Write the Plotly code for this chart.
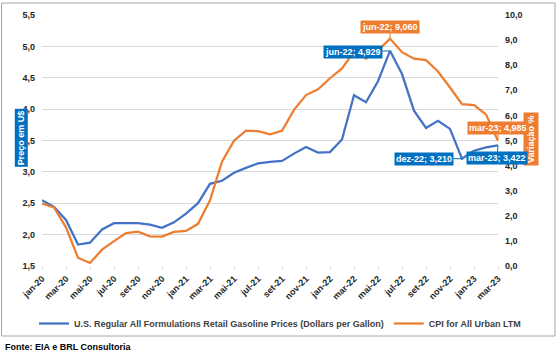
import plotly.graph_objects as go

months = ['jan-20','fev-20','mar-20','abr-20','mai-20','jun-20','jul-20','ago-20','set-20','out-20','nov-20','dez-20',
          'jan-21','fev-21','mar-21','abr-21','mai-21','jun-21','jul-21','ago-21','set-21','out-21','nov-21','dez-21',
          'jan-22','fev-22','mar-22','abr-22','mai-22','jun-22','jul-22','ago-22','set-22','out-22','nov-22','dez-22',
          'jan-23','fev-23','mar-23']
gasoline = [2.548,2.442,2.234,1.841,1.871,2.082,2.183,2.182,2.183,2.158,2.108,2.195,
            2.334,2.501,2.810,2.858,2.985,3.064,3.136,3.158,3.175,3.291,3.395,3.307,
            3.315,3.517,4.222,4.109,4.444,4.929,4.559,3.975,3.700,3.815,3.685,3.210,
            3.338,3.391,3.422]
cpi = [2.49,2.33,1.54,0.33,0.12,0.65,0.99,1.31,1.37,1.18,1.17,1.36,
       1.40,1.68,2.62,4.16,4.99,5.39,5.37,5.25,5.39,6.22,6.81,7.04,
       7.48,7.87,8.54,8.26,8.58,9.060,8.52,8.26,8.20,7.75,7.11,6.45,
       6.41,6.04,4.985]
tick_labels = months[::2]
name_gas = 'U.S. Regular All Formulations Retail Gasoline Prices (Dollars per Gallon)'
name_cpi = 'CPI for All Urban LTM'
left_title = 'Preço em U$'
right_title = 'Variação %'
source = 'Fonte: EIA e BRL Consultoria'

BLUE_LINE = '#4472C4'
ORANGE = '#ED7D31'
BLUE_LBL = '#0070C0'
FONT = 'Liberation Sans, Arial, sans-serif'

W, H = 559, 355
L, R, T, B = 42, 498, 15, 266

def px(x):
    return (x - L) / (R - L)

def py(y):
    return (B - y) / (B - T)

def fmt(v):
    return f'{v:.3f}'.replace('.', ',')

fig = go.Figure()
fig.add_trace(go.Scatter(x=months, y=gasoline, name=name_gas, mode='lines',
                         line=dict(color=BLUE_LINE, width=2.25), yaxis='y'))
fig.add_trace(go.Scatter(x=months, y=cpi, name=name_cpi, mode='lines',
                         line=dict(color=ORANGE, width=2.25), yaxis='y2'))

tickfont = dict(family=FONT, size=9, color='#262626', weight='bold')

fig.update_layout(
    width=W, height=H,
    margin=dict(l=L, r=W - R, t=T, b=H - B, autoexpand=False),
    paper_bgcolor='white', plot_bgcolor='white',
    separators=',.',
    font=dict(family=FONT, size=9, color='#262626'),
    xaxis=dict(type='category', categoryorder='array', categoryarray=months,
               range=[0, len(months) - 1], tickmode='array',
               tickvals=tick_labels, ticktext=tick_labels, tickangle=-45,
               tickfont=tickfont, showgrid=False, zeroline=False,
               showline=False, ticks='outside', ticklen=3, tickcolor='#d9d9d9'),
    yaxis=dict(range=[1.5, 5.5], dtick=0.5, tickformat='.1f', tickfont=tickfont,
               showgrid=True, gridcolor='#d9d9d9', gridwidth=1, zeroline=False,
               showline=False, ticks='', ticklabelstandoff=6),
    yaxis2=dict(range=[0, 10], dtick=1, tickformat='.1f', tickfont=tickfont,
                overlaying='y', side='right', showgrid=False, zeroline=False,
                showline=False, ticks='', ticklabelstandoff=6),
    showlegend=True,
    legend=dict(orientation='h', x=px(34), y=py(309), xanchor='left', yanchor='top',
                font=dict(family=FONT, size=9, color='#404040', weight='bold'),
                itemwidth=30, tracegroupgap=0, bgcolor='rgba(0,0,0,0)'),
)

# border
fig.add_shape(type='rect', xref='paper', yref='paper',
              x0=px(1.5), x1=px(555), y0=py(336), y1=py(3),
              line=dict(color='#a6a6a6', width=1), fillcolor='rgba(0,0,0,0)', layer='below')

ann = []
# axis title boxes
ann.append(dict(xref='paper', yref='paper', x=px(14.3), y=py(138), text=f'<b>{left_title}</b>',
                textangle=-90, showarrow=False, bgcolor=BLUE_LBL, borderpad=1,
                font=dict(family=FONT, size=9, color='white')))
ann.append(dict(xref='paper', yref='paper', x=px(539), y=py(139), text=f'<b>{right_title}</b>',
                textangle=-90, showarrow=False, bgcolor=ORANGE, borderpad=2,
                font=dict(family=FONT, size=9, color='white')))
# source
ann.append(dict(xref='paper', yref='paper', x=px(3), y=py(347), xanchor='left', yanchor='middle',
                text=f'<b>{source}</b>', showarrow=False,
                font=dict(family=FONT, size=9, color='#000000')))

# callouts
def callout(i, series, yref, color, ax, ay):
    return dict(xref='x', yref=yref, x=months[i], y=series[i],
                text=f'<b>{months[i]}; {fmt(series[i])}</b>',
                showarrow=True, arrowhead=0, arrowwidth=1, arrowcolor=color,
                ax=ax, ay=ay, standoff=0, bgcolor=color, borderpad=1,
                font=dict(family=FONT, size=9, color='white'))

i_jun22 = months.index('jun-22')
i_dez22 = months.index('dez-22')
i_mar23 = months.index('mar-23')
ann.append(callout(i_jun22, cpi, 'y2', ORANGE, 0, -12))
ann.append(callout(i_jun22, gasoline, 'y', BLUE_LBL, -37, 1))
ann.append(callout(i_mar23, cpi, 'y2', ORANGE, 0, -13))
ann.append(callout(i_dez22, gasoline, 'y', BLUE_LBL, -38, 0))
ann.append(callout(i_mar23, gasoline, 'y', BLUE_LBL, -1, 13))

fig.update_layout(annotations=ann)
fig.write_html('out.html', config={'displayModeBar': False},
               post_script="document.body.style.margin='0';")
